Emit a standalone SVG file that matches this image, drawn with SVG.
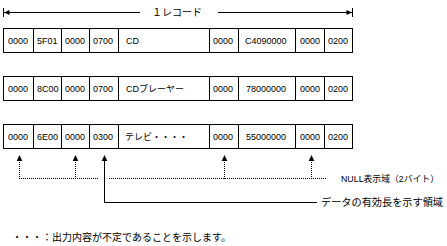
<svg xmlns="http://www.w3.org/2000/svg" width="447" height="246" viewBox="0 0 447 246">
<defs>
<style>
.cell{fill:#fff;stroke:#000;stroke-width:1;shape-rendering:crispEdges}
.t{font-family:"Liberation Sans","Noto Sans CJK JP",sans-serif;font-size:9px;fill:#000}
.lbl{font-family:"Liberation Sans","Noto Sans CJK JP",sans-serif;font-size:10px;fill:#000}
.ln{stroke:#000;stroke-width:1;fill:none;shape-rendering:crispEdges}
.dot{stroke:#000;stroke-width:1;fill:none;stroke-dasharray:1 1;shape-rendering:crispEdges}
.ah{fill:#000}
</style>
<path id="uph" d="M0,0 L2.8,6 L-2.8,6 Z"/>
</defs>

<g id="record-span">
<line class="ln" x1="3.5" y1="8" x2="3.5" y2="17"/>
<line class="ln" x1="4" y1="12.5" x2="140" y2="12.5"/>
<line class="ln" x1="218" y1="12.5" x2="352" y2="12.5"/>
<line class="ln" x1="352.5" y1="8" x2="352.5" y2="17"/>
<path class="ah" d="M4,12.5 L9.5,10 L9.5,15 Z"/>
<path class="ah" d="M352,12.5 L346.5,10 L346.5,15 Z"/>
<text class="lbl" x="152" y="16">１レコード</text>
</g>

<g id="row1">
<rect class="cell" x="3.5" y="28.5" width="349" height="24"/>
<g class="ln"><line x1="33.5" y1="28" x2="33.5" y2="53"/><line x1="61.5" y1="28" x2="61.5" y2="53"/><line x1="89.5" y1="28" x2="89.5" y2="53"/><line x1="118.5" y1="28" x2="118.5" y2="53"/><line x1="209.5" y1="28" x2="209.5" y2="53"/><line x1="238.5" y1="28" x2="238.5" y2="53"/><line x1="295.5" y1="28" x2="295.5" y2="53"/><line x1="324.5" y1="28" x2="324.5" y2="53"/></g>
<text class="t" x="8" y="44">0000</text><text class="t" x="37" y="44">5F01</text><text class="t" x="65" y="44">0000</text><text class="t" x="93" y="44">0700</text><text class="t" x="126" y="44">CD</text><text class="t" x="213" y="44">0000</text><text class="t" x="245" y="44">C4090000</text><text class="t" x="300" y="44">0000</text><text class="t" x="328" y="44">0200</text>
</g>

<g id="row2">
<rect class="cell" x="3.5" y="76.5" width="349" height="24"/>
<g class="ln"><line x1="33.5" y1="76" x2="33.5" y2="101"/><line x1="61.5" y1="76" x2="61.5" y2="101"/><line x1="89.5" y1="76" x2="89.5" y2="101"/><line x1="118.5" y1="76" x2="118.5" y2="101"/><line x1="209.5" y1="76" x2="209.5" y2="101"/><line x1="238.5" y1="76" x2="238.5" y2="101"/><line x1="295.5" y1="76" x2="295.5" y2="101"/><line x1="324.5" y1="76" x2="324.5" y2="101"/></g>
<text class="t" x="8" y="92">0000</text><text class="t" x="37" y="92">8C00</text><text class="t" x="65" y="92">0000</text><text class="t" x="93" y="92">0700</text><text class="t" x="126" y="92">CDプレーヤー</text><text class="t" x="213" y="92">0000</text><text class="t" x="246" y="92">78000000</text><text class="t" x="300" y="92">0000</text><text class="t" x="328" y="92">0200</text>
</g>

<g id="row3">
<rect class="cell" x="3.5" y="124.5" width="349" height="24"/>
<g class="ln"><line x1="33.5" y1="124" x2="33.5" y2="149"/><line x1="61.5" y1="124" x2="61.5" y2="149"/><line x1="89.5" y1="124" x2="89.5" y2="149"/><line x1="118.5" y1="124" x2="118.5" y2="149"/><line x1="209.5" y1="124" x2="209.5" y2="149"/><line x1="238.5" y1="124" x2="238.5" y2="149"/><line x1="295.5" y1="124" x2="295.5" y2="149"/><line x1="324.5" y1="124" x2="324.5" y2="149"/></g>
<text class="t" x="8" y="140">0000</text><text class="t" x="37" y="140">6E00</text><text class="t" x="65" y="140">0000</text><text class="t" x="93" y="140">0300</text><text class="t" x="125" y="140">テレビ・・・・</text><text class="t" x="213" y="140">0000</text><text class="t" x="246" y="140">55000000</text><text class="t" x="300" y="140">0000</text><text class="t" x="328" y="140">0200</text>
</g>

<g id="connectors">
<path class="dot" d="M19.5,178.5 V161"/>
<path class="dot" d="M75.5,178.5 V161"/>
<path class="dot" d="M224.5,178.5 V161"/>
<path class="dot" d="M311.5,178.5 V161"/>
<path class="dot" d="M19,178.5 H99"/>
<path class="dot" d="M109,178.5 H327"/>
<path class="ln" d="M317,202.5 H104.5 V160"/>
<use href="#uph" class="ah" x="19.5" y="155"/>
<use href="#uph" class="ah" x="75.5" y="155"/>
<use href="#uph" class="ah" x="104.5" y="155"/>
<use href="#uph" class="ah" x="224.5" y="155"/>
<use href="#uph" class="ah" x="311.5" y="155"/>
</g>

<g id="null-label"><text class="lbl" x="341" y="182" style="font-size:9px" textLength="98" lengthAdjust="spacingAndGlyphs">NULL表示域（2バイト）</text></g>
<g id="length-label"><text class="lbl" x="321" y="206" textLength="122" lengthAdjust="spacingAndGlyphs">データの有効長を示す領域</text></g>
<g id="note"><text class="lbl" x="12" y="241">・・・：出力内容が不定であることを示します。</text></g>
</svg>
